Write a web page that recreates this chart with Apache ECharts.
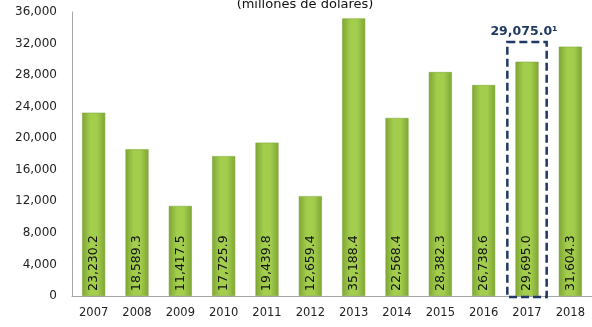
<!DOCTYPE html>
<html><head><meta charset="utf-8">
<script src="https://cdn.jsdelivr.net/npm/echarts@6/dist/echarts.min.js"></script>
<style>html,body{margin:0;padding:0;background:#fff}#c{width:592px;height:327px}</style>
</head><body><div id="c"></div>
<script>
const categories = ['2007','2008','2009','2010','2011','2012','2013','2014','2015','2016','2017','2018'];
const values = [23230.2,18589.3,11417.5,17725.9,19439.8,12659.4,35188.4,22568.4,28382.3,26738.6,29695.0,31604.3];
const yTicks = [0,4000,8000,12000,16000,20000,24000,28000,32000,36000];
const titleText = '(millones de dólares)';
const annotCategory = '2017';
const annotValue = 29075.0;
const annotBoxTop = 32200;

const FONT = 'DejaVu Sans';
const fmt = v => v.toLocaleString('en-US',{minimumFractionDigits:1,maximumFractionDigits:1});
const chart = echarts.init(document.getElementById('c'));
const annotIdx = categories.indexOf(annotCategory);
chart.setOption({
  animation:false,
  title:{text:titleText,left:300,textAlign:'center',top:-7,textStyle:{fontFamily:FONT,fontSize:13,fontWeight:'normal',color:'#111'}},
  grid:{left:72,top:12,bottom:31,width:526},
  xAxis:{type:'category',data:categories,axisLine:{lineStyle:{color:'#a6a6a6',width:1}},axisTick:{show:false},
    axisLabel:{fontFamily:FONT,fontSize:11.5,color:'#222',margin:11}},
  yAxis:{type:'value',min:yTicks[0],max:yTicks[yTicks.length-1],interval:4000,
    axisLine:{show:true,lineStyle:{color:'#a6a6a6'}},axisTick:{show:false},splitLine:{show:false},
    axisLabel:{fontFamily:FONT,fontSize:12,color:'#222',margin:15,formatter:v=>v.toLocaleString('en-US')}},
  series:[{
    type:'bar',data:values,barWidth:23,
    itemStyle:{color:new echarts.graphic.LinearGradient(0,0,1,0,[{offset:0,color:'#7fa634'},{offset:0.35,color:'#a3cd4c'},{offset:0.65,color:'#a3cd4c'},{offset:1,color:'#7fa634'}]),
      borderColor:'#77a030',borderWidth:0.5},
    label:{show:true,position:'insideBottom',rotate:90,align:'left',verticalAlign:'middle',distance:5,
      fontFamily:FONT,fontSize:12.5,color:'#111',formatter:p=>fmt(p.value)}
  },{
    type:'custom',data:[[annotIdx,annotBoxTop,annotValue]],z:10,
    renderItem:(params,api)=>{
      const idx=api.value(0);
      const top=api.coord([idx,api.value(1)]);
      const bot=api.coord([idx,0]);
      const w=api.size([1,0])[0];
      return {type:'group',children:[
        {type:'rect',shape:{x:top[0]-w/2+2,y:top[1],width:w-4,height:bot[1]-top[1]+1},
          style:{fill:null,stroke:'#1f3864',lineWidth:2.5,lineDash:[8,4]}},
        {type:'text',style:{text:fmt(api.value(2))+'¹',x:top[0]-3,y:top[1]-4,align:'center',verticalAlign:'bottom',
          fill:'#1f3864',font:'bold 12.5px "'+FONT+'"'}}
      ]};
    }
  }]
});
</script></body></html>
